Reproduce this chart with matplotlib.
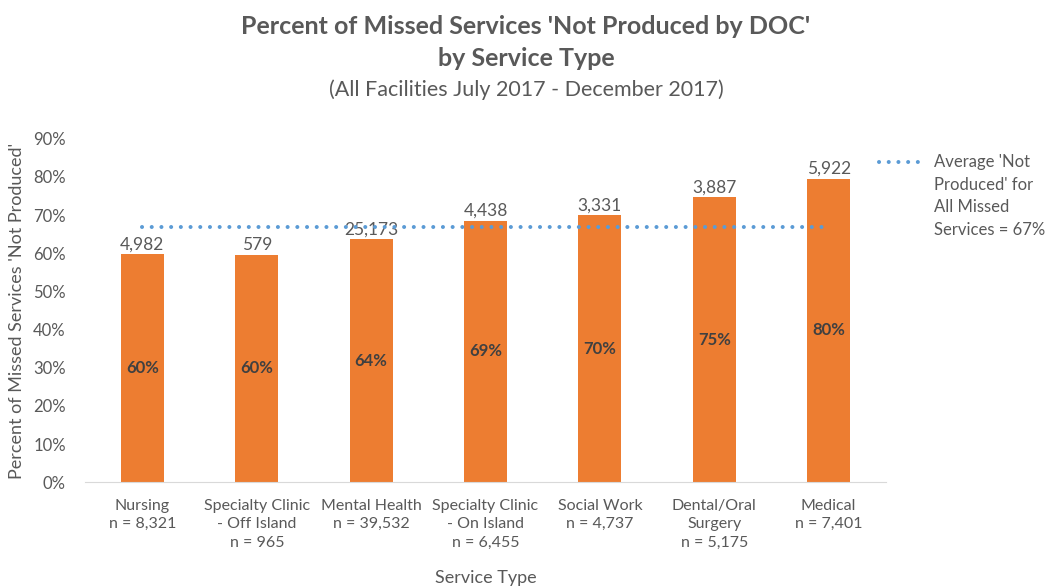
import matplotlib.pyplot as plt
from matplotlib.lines import Line2D
from matplotlib.ticker import PercentFormatter

categories = ["Nursing\nn = 8,321", "Specialty Clinic\n- Off Island\nn = 965",
              "Mental Health\nn = 39,532", "Specialty Clinic\n- On Island\nn = 6,455",
              "Social Work\nn = 4,737", "Dental/Oral\nSurgery\nn = 5,175",
              "Medical\nn = 7,401"]
pct_not_produced = [0.597, 0.596, 0.636, 0.685, 0.699, 0.747, 0.795]
pct_labels = ["60%", "60%", "64%", "69%", "70%", "75%", "80%"]
not_produced_counts = ["4,982", "579", "25,173", "4,438", "3,331", "3,887", "5,922"]
average_pct = 0.67
average_label = "Average 'Not\nProduced' for\nAll Missed\nServices = 67%"

plt.rcParams['font.family'] = ['Lato', 'DejaVu Sans']
gray = "#595959"
orange = "#ED7D31"
blue = "#5B9BD5"
dots = dict(linestyle=(0, (0.01, 2.4)), color=blue, linewidth=2.9,
            dash_capstyle="round", solid_capstyle="round")

fig = plt.figure(figsize=(10.52, 5.88), dpi=100)
ax = fig.add_axes([0.081, 0.180, 0.761, 0.584])

x = range(len(categories))
bars = ax.bar(x, pct_not_produced, width=0.375, color=orange, zorder=2)
ax.plot(list(x), [average_pct] * len(categories), zorder=3, **dots)

for bar, cnt, lab in zip(bars, not_produced_counts, pct_labels):
    cx = bar.get_x() + bar.get_width() / 2
    h = bar.get_height()
    ax.text(cx, h + 0.005, cnt, ha="center", va="bottom", fontsize=12.5, color=gray, zorder=1)
    ax.text(cx, h / 2, lab, ha="center", va="center", fontsize=12, fontweight="bold",
            color="#404040")

ax.set_xlim(-0.5, len(categories) - 0.5)
ax.set_ylim(0, 0.9)
ax.set_yticks([i / 10 for i in range(10)])
ax.yaxis.set_major_formatter(PercentFormatter(1.0, decimals=0))
ax.set_xticks(list(x))
ax.set_xticklabels(categories, fontsize=11.5, color=gray, va="top", linespacing=1.4)
ax.tick_params(axis="y", labelsize=12, colors=gray, length=0, pad=14)
ax.tick_params(axis="x", length=0, pad=12)
for s in ["top", "right", "left"]:
    ax.spines[s].set_visible(False)
ax.spines["bottom"].set_color("#D9D9D9")

ax.set_ylabel("Percent of Missed Services 'Not Produced'", fontsize=13, color=gray, labelpad=6)
ax.set_xlabel("Service Type", fontsize=13, color=gray, labelpad=15)

fig.text(0.5, 0.955, "Percent of Missed Services 'Not Produced by DOC'", ha="center",
         va="center", fontsize=18, fontweight="bold", color=gray)
fig.text(0.5, 0.900, "by Service Type", ha="center", va="center", fontsize=18,
         fontweight="bold", color=gray)
fig.text(0.5, 0.847, "(All Facilities July 2017 - December 2017)", ha="center", va="center",
         fontsize=15.5, color=gray)

# legend drawn by hand so the key sits beside the first text line
fig.add_artist(Line2D([0.836, 0.878], [0.724, 0.724], **dots))
fig.text(0.888, 0.738, average_label, ha="left", va="top", fontsize=12, color=gray,
         linespacing=1.5)

fig.savefig("out.png", dpi=100)
